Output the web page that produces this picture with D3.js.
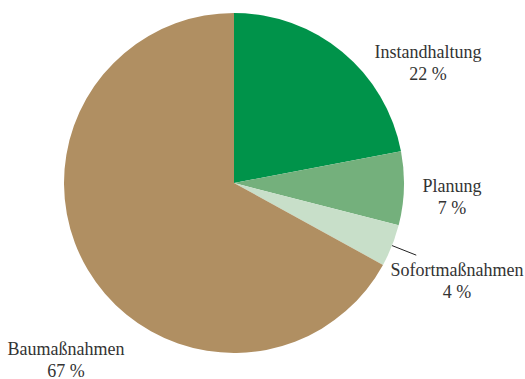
<!DOCTYPE html>
<html><head><meta charset="utf-8">
<script src="https://cdn.jsdelivr.net/npm/d3@7"></script>
<style>body{margin:0;background:#fff}svg{display:block}</style>
</head><body>
<svg id="c" width="525" height="379"></svg>
<script>
const categories = ["Instandhaltung", "Planung", "Sofortmaßnahmen", "Baumaßnahmen"];
const values = [22, 7, 4, 67];
const valueLabels = ["22 %", "7 %", "4 %", "67 %"];
const colors = ["#00934a", "#74b07c", "#c8dfc9", "#b08f62"];

const W = 525, H = 379, cx = 234, cy = 183, R = 170;
const svg = d3.select("#c");
const g = svg.append("g").attr("transform", `translate(${cx},${cy})`);
const pie = d3.pie().sort(null).value(d => d)(values);
const arc = d3.arc().innerRadius(0).outerRadius(R);
g.selectAll("path").data(pie).enter().append("path")
  .attr("d", arc).attr("fill", (d, i) => colors[i]);

// label anchors (first-line baseline centre) relative to the pie centre
const labelOffsets = [[194, -125], [218, 9], [223, 93], [-168, 172]];
const lineGap = 21.5;
labelOffsets.forEach(([x, y], i) => {
  const t = g.append("text").attr("text-anchor", "middle")
    .attr("font-family", "'Liberation Serif', serif").attr("font-size", 18)
    .attr("fill", "#333");
  t.append("tspan").attr("x", x).attr("y", y).text(categories[i]);
  t.append("tspan").attr("x", x).attr("y", y + lineGap).text(valueLabels[i]);
});

// leader line for the small slice, along its mid angle
const s = pie[2];
const mid = (s.startAngle + s.endAngle) / 2;
const pt = r => [r * Math.sin(mid), -r * Math.cos(mid)];
const a = pt(R), b = pt(R + 26);
g.append("line").attr("x1", a[0]).attr("y1", a[1])
  .attr("x2", b[0]).attr("y2", b[1])
  .attr("stroke", "#222").attr("stroke-width", 1);
</script>
</body></html>
